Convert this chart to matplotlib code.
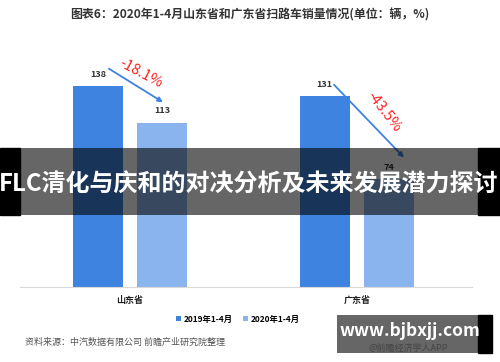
import matplotlib
matplotlib.use("Agg")
import matplotlib.pyplot as plt
from matplotlib.patches import Rectangle

plt.rcParams['font.family'] = ['Noto Sans CJK SC', 'DejaVu Sans']

# data
provinces = ["山东省", "广东省"]
series = ["2019年1-4月", "2020年1-4月"]
sales_2019 = [138, 131]
sales_2020 = [113, 74]
changes = ["-18.1%", "-43.5%"]
colors = ["#3F83E0", "#8AB4EE"]

W, H = 500, 362

def fx(x):
    return x / W

def fy(y):
    return 1 - y / H

fig = plt.figure(figsize=(W / 100, H / 100), dpi=100)
ax = fig.add_axes([fx(20), fy(287), fx(452), 227 / H])

off, bw = 0.142, 0.22
xs = range(len(provinces))
ax.bar([x - off for x in xs], sales_2019, bw, color=colors[0], label=series[0])
ax.bar([x + off for x in xs], sales_2020, bw, color=colors[1], label=series[1])

ax.set_xlim(-0.485, 1.507)
ax.set_ylim(0, 156)
for s in ["top", "right", "left"]:
    ax.spines[s].set_visible(False)
ax.spines["bottom"].set_color("#d9d9d9")
ax.set_yticks([])
ax.set_xticks([])

# value labels
for i in xs:
    ax.text(i - off, sales_2019[i] + 5, str(sales_2019[i]), ha="center", va="bottom",
            fontsize=6.5, fontweight="bold", color="#333333")
    ax.text(i + off, sales_2020[i] + 5, str(sales_2020[i]), ha="center", va="bottom",
            fontsize=6.5, fontweight="bold", color="#333333")

# change arrows
arrows = [((-0.093, 150), (0.145, 127)), ((-0.101, 139), (0.207, 89))]
label_pos = [(0.05, 147), (0.12, 120)]
label_rot = [-28, -52]
for i in xs:
    (x0, y0), (x1, y1) = arrows[i]
    ax.annotate("", xy=(i + x1, y1), xytext=(i + x0, y0),
                arrowprops=dict(arrowstyle="-|>", color="#3F83E0", lw=1.3,
                                mutation_scale=7, shrinkA=0, shrinkB=0),
                annotation_clip=False)
    lx, ly = label_pos[i]
    ax.text(i + lx, ly, changes[i], color="#FF2020", fontsize=10.5,
            rotation=label_rot[i], ha="center", va="center", rotation_mode="anchor")

# category labels
for i in xs:
    ax.text(i, -9, provinces[i], ha="center", va="center", fontsize=6.5,
            fontweight="bold", color="#222222")

# title
fig.text(0.5, fy(15), "图表6：2020年1-4月山东省和广东省扫路车销量情况(单位：辆，%)",
         ha="center", va="center", fontsize=8.6, fontweight="bold", color="#333333")

# legend
fig.legend(loc="center", bbox_to_anchor=(fx(238), fy(319)), ncol=2, frameon=False,
           handlelength=0.6, handleheight=0.6, handletextpad=0.3,
           columnspacing=1.2, prop={"weight": "bold", "size": 6})

# source
fig.text(fx(25), fy(342), "资料来源：中汽数据有限公司 前瞻产业研究院整理", ha="left", va="center",
         fontsize=6.5, color="#555555")

# dark overlay band with headline
fig.add_artist(Rectangle((0, fy(215)), fx(20), fy(148) - fy(215), transform=fig.transFigure,
                         color="black", zorder=5))
fig.add_artist(Rectangle((fx(478), fy(215)), fx(22), fy(148) - fy(215), transform=fig.transFigure,
                         color="black", zorder=5))
fig.add_artist(Rectangle((fx(20), fy(215)), fx(458), fy(148) - fy(215), transform=fig.transFigure,
                         color="black", alpha=0.6, lw=0, zorder=5))
fig.text(fx(249), fy(185), "FLC清化与庆和的对决分析及未来发展潜力探讨", ha="center", va="center",
         fontsize=17.3, fontweight="bold", color="white", zorder=6)

# watermark box bottom right
fig.add_artist(Rectangle((fx(478), fy(353)), fx(14), fy(315) - fy(353), transform=fig.transFigure,
                         color="black", zorder=5))
fig.add_artist(Rectangle((fx(337), fy(353)), fx(141), fy(315) - fy(353), transform=fig.transFigure,
                         color="black", alpha=0.6, lw=0, zorder=5))
fig.text(fx(408), fy(348), "@前瞻经济学人APP", ha="center", va="center", fontsize=6.5,
         color="#444444", zorder=5.5)
fig.text(fx(410), fy(331), "www.bjbxjj.com", ha="center", va="center", fontsize=12.5,
         fontweight="bold", color="white", zorder=6)

fig.savefig("out.png", dpi=100)
